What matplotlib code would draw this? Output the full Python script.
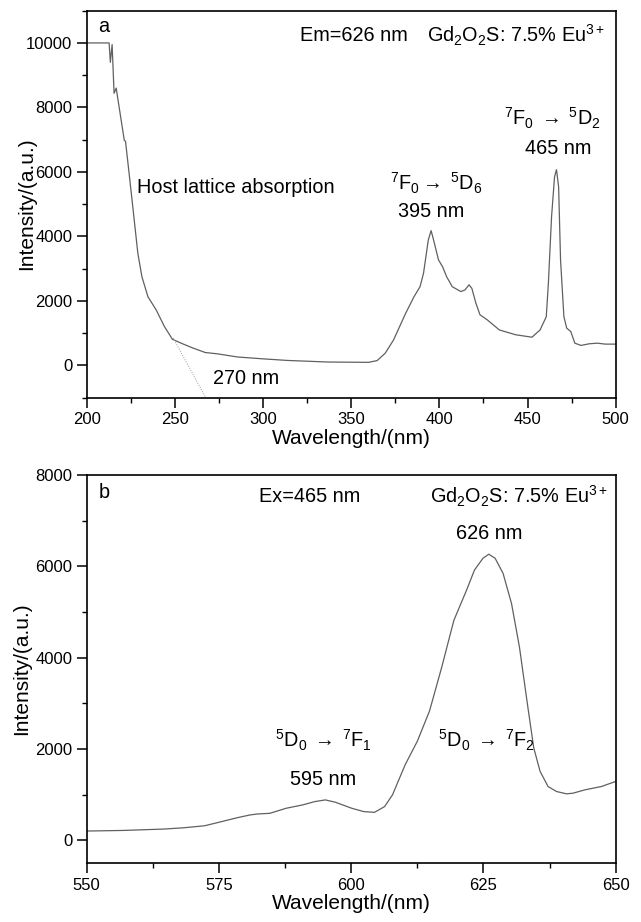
import matplotlib
matplotlib.use("Agg")
import matplotlib.pyplot as plt
from matplotlib.ticker import MultipleLocator

plt.rcParams['font.family'] = ['Liberation Sans', 'DejaVu Sans']
plt.rcParams['mathtext.fontset'] = 'custom'
plt.rcParams['mathtext.rm'] = 'Liberation Sans'
plt.rcParams['mathtext.it'] = 'Liberation Sans:italic'
plt.rcParams['mathtext.default'] = 'regular'

# excitation spectrum (Em = 626 nm)
exc_wl = [200, 212.7, 213.4, 214.4, 215.5, 216.7, 221.3, 222, 225.5, 229, 231.3, 234.7,
          239.4, 244, 248.6, 254.4, 260.2, 267.2, 274, 285.7, 299.6, 313.5, 336.7, 359.8,
          364.7, 369.3, 374, 380.9, 385.6, 389, 391, 393.7, 395.3, 396.7, 399.5, 401.8,
          404.1, 407.3, 412.2, 414.5, 416.8, 418.4, 420.7, 423, 427.2, 434, 443.3, 452.5,
          457.1, 460.6, 461.8, 463.6, 465.3, 466.4, 467.6, 468.7, 470.6, 472.2, 474.5,
          476.8, 480.3, 484.9, 489.5, 494.1, 500]
exc_int = [10000, 10000, 9400, 9950, 8440, 8600, 6980, 6950, 5230, 3470, 2750, 2130,
           1720, 1210, 810, 670, 540, 400, 360, 260, 205, 155, 105, 95,
           150, 380, 790, 1620, 2130, 2440, 2860, 3890, 4180, 3890, 3270, 3060,
           2750, 2440, 2290, 2340, 2500, 2390, 1930, 1570, 1410, 1100, 950, 875,
           1100, 1510, 2550, 4610, 5850, 6070, 5540, 3270, 1510, 1155, 1050,
           690, 620, 670, 690, 660, 660]

# tangent used for the absorption edge
tangent_wl = [249, 267.5]
tangent_int = [850, -1000]

# emission spectrum (Ex = 465 nm)
em_wl = [550, 556.8, 564.5, 568.4, 572.3, 575.4, 578.5, 580.8, 582.3, 584.6, 587.7,
         590.8, 593.1, 595.1, 597, 600.1, 602.4, 604.4, 606.3, 607.8, 610.2, 612.5,
         614.8, 617.1, 619.4, 621.8, 623.3, 624.9, 626, 627.2, 628.7, 630.3, 631.8,
         633.4, 634.5, 635.7, 637.2, 638.8, 640.7, 641.9, 644.2, 647.3, 650]
em_int = [200, 213, 243, 272, 316, 404, 493, 551, 574, 588, 699,
          772, 845, 882, 831, 699, 625, 610, 735, 993, 1654, 2169,
          2831, 3787, 4816, 5478, 5919, 6176, 6265, 6176, 5846, 5184, 4228,
          2904, 2022, 1507, 1176, 1066, 1015, 1029, 1103, 1176, 1287]

line_color = "#606060"
fs_tick = 12
fs_label = 15
fs_text = 14.3
arrow = r"$\;\rightarrow\;$"


def style_axes(ax):
    for sp in ax.spines.values():
        sp.set_linewidth(1.2)
    ax.tick_params(which="major", direction="out", length=7, width=1.1, labelsize=fs_tick)
    ax.tick_params(which="minor", direction="out", length=3.5, width=1.0)


fig = plt.figure(figsize=(6.41, 9.22), dpi=100)

# panel a
ax1 = fig.add_axes([0.1353, 0.5687, 0.8253, 0.4197])
ax1.plot(exc_wl, exc_int, color=line_color, lw=0.9)
ax1.plot(tangent_wl, tangent_int, color="#9a9a9a", lw=0.7, ls=(0, (1, 1.5)))
ax1.set_xlim(200, 500)
ax1.set_ylim(-1000, 11000)
ax1.xaxis.set_major_locator(MultipleLocator(50))
ax1.xaxis.set_minor_locator(MultipleLocator(25))
ax1.yaxis.set_major_locator(MultipleLocator(2000))
ax1.yaxis.set_minor_locator(MultipleLocator(1000))
style_axes(ax1)
ax1.set_xlabel("Wavelength/(nm)", fontsize=fs_label, labelpad=1)
ax1.set_ylabel("Intensity/(a.u.)", fontsize=fs_label)
ax1.yaxis.set_label_coords(-0.095, 0.5)

ax1.text(206.5, 10500, "a", fontsize=fs_text, ha="left", va="center")
ax1.text(351.7, 10230, "Em=626 nm", fontsize=fs_text, ha="center", va="center")
ax1.text(443.7, 10230, "Gd$_2$O$_2$S: 7.5% Eu$^{3+}$", fontsize=fs_text, ha="center", va="center")
ax1.text(464, 7650, "$^7$F$_0$" + arrow + "$^5$D$_2$", fontsize=fs_text, ha="center", va="center")
ax1.text(467.5, 6720, "465 nm", fontsize=fs_text, ha="center", va="center")
ax1.text(398, 5640, r"$^7$F$_0$$\rightarrow\;$$^5$D$_6$", fontsize=fs_text, ha="center", va="center")
ax1.text(395.3, 4760, "395 nm", fontsize=fs_text, ha="center", va="center")
ax1.text(228.5, 5505, "Host lattice absorption", fontsize=fs_text, ha="left", va="center")
ax1.text(290.3, -420, "270 nm", fontsize=fs_text, ha="center", va="center")

# panel b
ax2 = fig.add_axes([0.1353, 0.0640, 0.8253, 0.4208])
ax2.plot(em_wl, em_int, color=line_color, lw=0.9)
ax2.set_xlim(550, 650)
ax2.set_ylim(-500, 8000)
ax2.xaxis.set_major_locator(MultipleLocator(25))
ax2.xaxis.set_minor_locator(MultipleLocator(12.5))
ax2.yaxis.set_major_locator(MultipleLocator(2000))
ax2.yaxis.set_minor_locator(MultipleLocator(1000))
style_axes(ax2)
ax2.set_xlabel("Wavelength/(nm)", fontsize=fs_label, labelpad=1)
ax2.set_ylabel("Intensity/(a.u.)", fontsize=fs_label)
ax2.yaxis.set_label_coords(-0.105, 0.5)

ax2.text(552.2, 7610, "b", fontsize=fs_text, ha="left", va="center")
ax2.text(592.2, 7540, "Ex=465 nm", fontsize=fs_text, ha="center", va="center")
ax2.text(631.8, 7540, "Gd$_2$O$_2$S: 7.5% Eu$^{3+}$", fontsize=fs_text, ha="center", va="center")
ax2.text(626, 6710, "626 nm", fontsize=fs_text, ha="center", va="center")
ax2.text(594.7, 2180, "$^5$D$_0$" + arrow + "$^7$F$_1$", fontsize=fs_text, ha="center", va="center")
ax2.text(594.7, 1320, "595 nm", fontsize=fs_text, ha="center", va="center")
ax2.text(625.6, 2180, "$^5$D$_0$" + arrow + "$^7$F$_2$", fontsize=fs_text, ha="center", va="center")

fig.savefig("out.png", dpi=100)
